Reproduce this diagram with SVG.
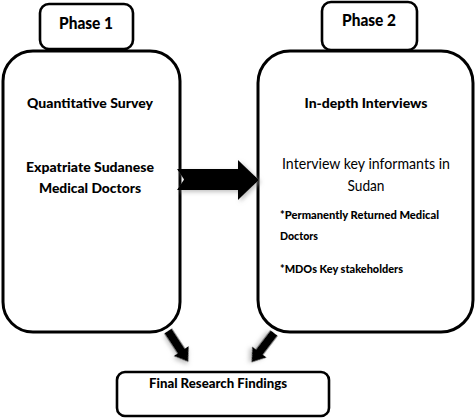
<svg xmlns="http://www.w3.org/2000/svg" width="475" height="418" viewBox="0 0 475 418">
<defs>
<style>
.box{fill:#fff;stroke:#000;stroke-width:3}
.tab{fill:#fff;stroke:#000;stroke-width:2.6}
.t{font-family:Lato,"Liberation Sans",sans-serif;fill:#000;text-anchor:middle}
.b{font-weight:900}
.l{text-anchor:start}
.arrow{fill:#000;filter:url(#sh)}
</style>
<filter id="sh" x="-50%" y="-50%" width="200%" height="200%">
<feDropShadow dx="2" dy="2" stdDeviation="2" flood-color="#999" flood-opacity="0.6"/>
</filter>
<polygon id="sa" points="0,-4.5 24,-4.5 24,-9 37,0 24,9 24,4.5 0,4.5"/>
</defs>
<rect width="475" height="418" fill="#fff"/>
<g id="phase1-main">
<rect class="box" x="3" y="51" width="177" height="281" rx="30"/>
<text class="t b" x="90" y="107.5" font-size="14" textLength="126" lengthAdjust="spacingAndGlyphs">Quantitative Survey</text>
<text class="t b" x="90" y="172" font-size="14" textLength="128" lengthAdjust="spacingAndGlyphs">Expatriate Sudanese</text>
<text class="t b" x="90" y="193" font-size="14" textLength="102" lengthAdjust="spacingAndGlyphs">Medical Doctors</text>
</g>
<g id="phase2-main">
<rect class="box" x="258" y="51" width="215" height="281" rx="32"/>
<text class="t b" x="366" y="107.5" font-size="14" textLength="123" lengthAdjust="spacingAndGlyphs">In-depth Interviews</text>
<text class="t" x="366" y="169" font-size="15" textLength="168" lengthAdjust="spacingAndGlyphs">Interview key informants in</text>
<text class="t" x="366" y="190.5" font-size="15" textLength="37" lengthAdjust="spacingAndGlyphs">Sudan</text>
<text class="t b l" x="280" y="219" font-size="11.5" textLength="159" lengthAdjust="spacingAndGlyphs">*Permanently Returned Medical</text>
<text class="t b l" x="280" y="240" font-size="11.5" textLength="38" lengthAdjust="spacingAndGlyphs">Doctors</text>
<text class="t b l" x="280" y="273" font-size="11.5" textLength="123" lengthAdjust="spacingAndGlyphs">*MDOs Key stakeholders</text>
</g>
<g id="phase1">
<rect class="tab" x="40" y="4" width="93" height="45" rx="9"/>
<text class="t b" x="86" y="29" font-size="16" textLength="54" lengthAdjust="spacingAndGlyphs">Phase 1</text>
</g>
<g id="phase2">
<rect class="tab" x="322" y="2" width="95" height="48" rx="9"/>
<text class="t b" x="369" y="26" font-size="16" textLength="54" lengthAdjust="spacingAndGlyphs">Phase 2</text>
</g>
<g id="final">
<rect class="tab" x="117" y="372" width="212" height="44" rx="8"/>
<text class="t b" x="218" y="388" font-size="14" textLength="138" lengthAdjust="spacingAndGlyphs">Final Research Findings</text>
</g>
<g id="connectors">
<polygon class="arrow" points="177,169 238,169 238,160 259,180 238,200 238,190 177,190 184,179.5"/>
<use href="#sa" class="arrow" transform="translate(168,331) rotate(56.7)"/>
<use href="#sa" class="arrow" transform="translate(274,333) rotate(127.5)"/>
</g>
</svg>
